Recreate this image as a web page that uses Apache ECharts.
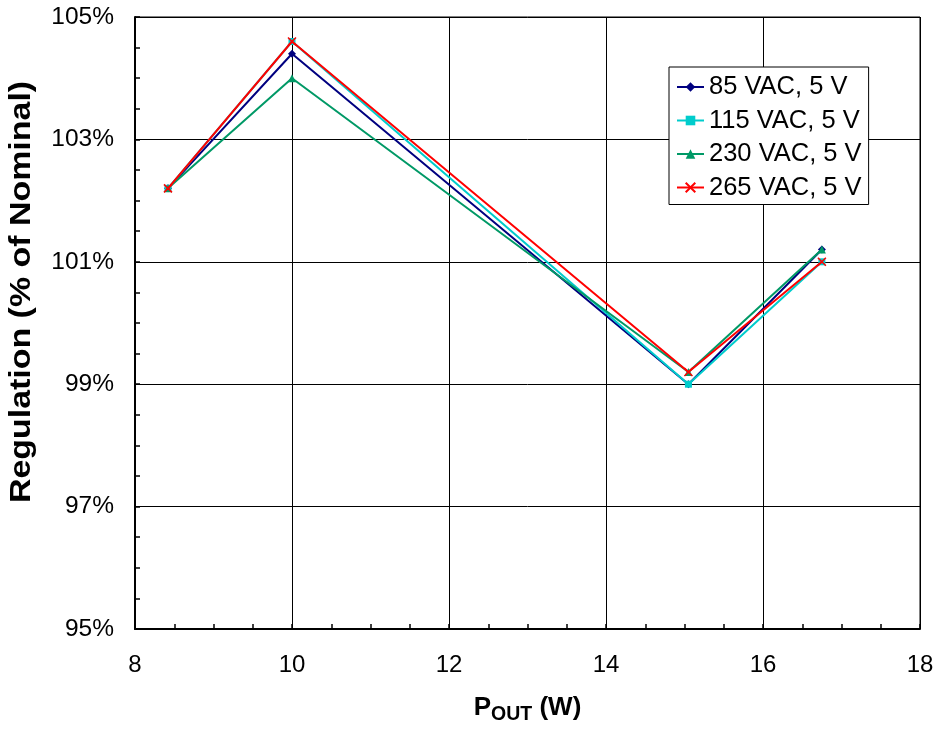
<!DOCTYPE html>
<html>
<head>
<meta charset="utf-8">
<script src="https://cdn.jsdelivr.net/npm/echarts@6/dist/echarts.min.js"></script>
<style>html,body{margin:0;padding:0;background:#fff}#c{width:940px;height:730px}</style>
</head>
<body>
<div id="c"></div>
<script>
const pout = [8.42, 10, 15.05, 16.75];
const seriesNames = ['85 VAC, 5 V', '115 VAC, 5 V', '230 VAC, 5 V', '265 VAC, 5 V'];
const v85 = [102.2, 104.4, 99.0, 101.2];
const v115 = [102.2, 104.6, 99.0, 101.0];
const v230 = [102.2, 104.0, 99.2, 101.2];
const v265 = [102.2, 104.6, 99.2, 101.0];
const yTicks = [95, 97, 99, 101, 103, 105];
const xTicks = [8, 10, 12, 14, 16, 18];
const yTitle = 'Regulation (% of Nominal)';

const colors = ['#000080', '#00CCCC', '#009966', '#FF0000'];
const symbols = ['diamond', 'rect', 'triangle', 'path://M0,0L10,10M10,0L0,10'];
const sizes = [8, 7, 8, 8];
const allVals = [v85, v115, v230, v265];

const font = 'Arial, "Liberation Sans", sans-serif';
const chart = echarts.init(document.getElementById('c'), null, {renderer: 'canvas'});

const series = allVals.map((vals, i) => ({
  name: seriesNames[i],
  type: 'line',
  data: vals.map((v, k) => [pout[k], v]),
  symbol: symbols[i],
  symbolSize: sizes[i],
  showAllSymbol: true,
  lineStyle: {color: colors[i], width: 2},
  itemStyle: i === 3 ? {color: colors[i], borderColor: colors[i], borderWidth: 1.5} : {color: colors[i], borderWidth: 0},
  emphasis: {disabled: true},
  animation: false,
  z: 2 + i
}));

chart.setOption({
  animation: false,
  backgroundColor: '#fff',
  textStyle: {fontFamily: font},
  grid: {left: 135, top: 17, right: 20, bottom: 98, show: true, borderColor: '#000', borderWidth: 1},
  legend: {
    left: 669, top: 67,
    orient: 'vertical',
    backgroundColor: '#fff',
    borderColor: '#000', borderWidth: 1,
    padding: [7, 7, 4, 7],
    itemGap: 7.5,
    itemWidth: 27, itemHeight: 12,
    textStyle: {fontSize: 25.5, color: '#000', fontFamily: font},
    data: seriesNames
  },
  graphic: [{
    type: 'text',
    x: 22, y: 292,
    rotation: Math.PI / 2,
    scaleX: 1.17, scaleY: 1,
    style: {
      text: yTitle,
      fontSize: 29, fontWeight: 'bold', fill: '#000', fontFamily: font,
      align: 'center', verticalAlign: 'middle'
    },
    silent: true
  }],
  xAxis: {
    type: 'value', min: xTicks[0], max: xTicks[xTicks.length - 1], interval: 2,
    axisLine: {show: true, onZero: false, lineStyle: {color: '#000', width: 2}},
    axisTick: {show: true, inside: true, length: 5, lineStyle: {color: '#000', width: 1.5}},
    minorTick: {show: true, splitNumber: 4, length: 5, lineStyle: {color: '#000', width: 1.5}},
    splitLine: {show: true, lineStyle: {color: '#000', width: 1}},
    axisLabel: {fontSize: 24, color: '#000', margin: 24, fontFamily: font},
    name: '{a|P}{b|OUT}{a| (W)}',
    nameLocation: 'middle', nameGap: 62,
    nameTextStyle: {
      rich: {
        a: {fontSize: 26, fontWeight: 'bold', color: '#000', fontFamily: font},
        b: {fontSize: 19.5, fontWeight: 'bold', color: '#000', fontFamily: font, padding: [14, 0, 0, 0]}
      }
    }
  },
  yAxis: {
    type: 'value', min: yTicks[0], max: yTicks[yTicks.length - 1], interval: 2,
    axisLine: {show: true, onZero: false, lineStyle: {color: '#000', width: 2}},
    axisTick: {show: true, inside: true, length: 5, lineStyle: {color: '#000', width: 1.5}},
    minorTick: {show: true, splitNumber: 4, length: 5, lineStyle: {color: '#000', width: 1.5}},
    splitLine: {show: true, lineStyle: {color: '#000', width: 1}},
    axisLabel: {fontSize: 24.5, color: '#000', margin: 21, formatter: '{value}%', fontFamily: font}
  },
  series: series
});
</script>
</body>
</html>
